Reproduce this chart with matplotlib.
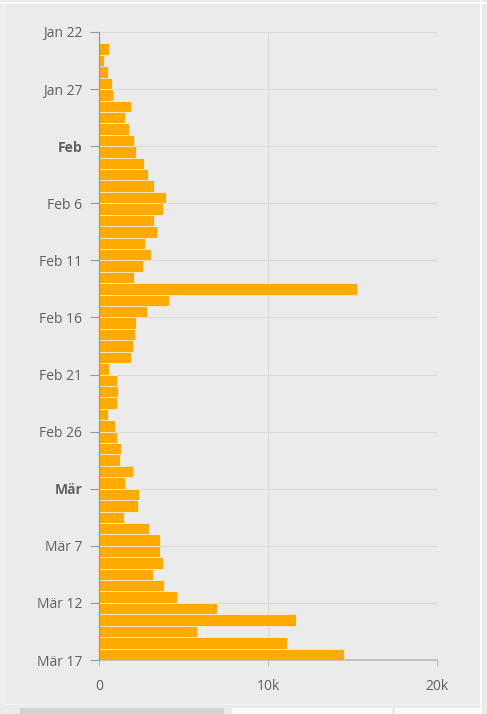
import matplotlib.pyplot as plt
import matplotlib.patches as patches
from matplotlib.lines import Line2D
import pandas as pd

# Daily new cases, Jan 23 .. Mar 16
START = '2020-01-22'
dates = pd.date_range('2020-01-23', '2020-03-16', freq='D')
new_cases = [
    610, 296, 515, 751, 846, 1876, 1538, 1775, 2089, 2189,
    2663, 2882, 3274, 3964, 3767, 3274, 3432, 2722, 3057, 2584,
    2091, 15290, 4163, 2820, 2189, 2150, 2032, 1874, 611, 1085,
    1144, 1085, 513, 947, 1085, 1282, 1243, 2032, 1538, 2387,
    2327, 1479, 2978, 3609, 3609, 3767, 3215, 3846, 4635, 7003,
    11680, 5819, 11104, 14480,
]

tick_days = [0, 5, 10, 15, 20, 25, 30, 35, 40, 45, 50, 55]
tick_labels = ['Jan 22', 'Jan 27', 'Feb', 'Feb 6', 'Feb 11', 'Feb 16',
               'Feb 21', 'Feb 26', 'Mär', 'Mär 7', 'Mär 12', 'Mär 17']
bold_labels = ['Feb', 'Mär']

x_ticks = [0, 10000, 20000]
x_labels = ['0', '10k', '20k']

BG = '#ebebeb'
BAR = '#ffaa00'
TEXT = '#606060'
GRID = '#d9d9d9'

plt.rcParams['font.family'] = ['Open Sans', 'DejaVu Sans']

fig = plt.figure(figsize=(4.87, 7.14), dpi=100, facecolor=BG)
ax = fig.add_axes([99 / 487, 1 - 660 / 714, 338 / 487, 628 / 714])
ax.set_facecolor(BG)

# bar for each day sits between that day and the next
days = [(d - pd.Timestamp(START)).days for d in dates]
ax.barh(days, new_cases, height=1, align='edge', color=BAR,
        edgecolor='#f8ecd2', linewidth=0.6, zorder=3)

ax.set_xlim(0, 20000)
ax.set_ylim(55, 0)

ax.set_yticks(tick_days)
ax.set_yticklabels(tick_labels)
for lbl in ax.get_yticklabels():
    if lbl.get_text() in bold_labels:
        lbl.set_fontweight('bold')
ax.set_xticks(x_ticks)
ax.set_xticklabels(x_labels)

ax.tick_params(axis='y', length=6.5, width=0.8, color='#999999', pad=5.5,
               labelsize=10, labelcolor=TEXT)
ax.tick_params(axis='x', length=4, width=0.8, color='#bbbbbb', pad=10,
               labelsize=10, labelcolor=TEXT)

ax.grid(True, color=GRID, linewidth=0.8, zorder=0)
ax.set_axisbelow(True)

for side in ['top', 'right']:
    ax.spines[side].set_visible(False)
ax.spines['left'].set_color('#999999')
ax.spines['left'].set_linewidth(0.9)
ax.spines['left'].set_zorder(4)
ax.spines['bottom'].set_color('#bbbbbb')
ax.spines['bottom'].set_linewidth(1.2)

# panel frame and bottom scroll strip
W, H = 487, 714
def px_line(x0, y0, x1, y1, color, lw):
    fig.add_artist(Line2D([x0 / W, x1 / W], [1 - y0 / H, 1 - y1 / H],
                          transform=fig.transFigure, color=color, linewidth=lw))

px_line(0, 3, W, 3, 'white', 1.2)
px_line(481, 0, 481, H, 'white', 1.2)
px_line(3, 3, 3, 704, '#f4f4f4', 0.8)
px_line(3, 704, 481, 704, '#f4f4f4', 0.8)
fig.add_artist(patches.Rectangle((20 / W, 0), 204 / W, 6 / H, transform=fig.transFigure,
                                 color='#d2d2d2', linewidth=0))
fig.add_artist(patches.Rectangle((232 / W, 0), 160 / W, 6 / H, transform=fig.transFigure,
                                 color='#fafafa', linewidth=0))
fig.add_artist(patches.Rectangle((395 / W, 0), 86 / W, 6 / H, transform=fig.transFigure,
                                 color='#fafafa', linewidth=0))

fig.savefig('out.png', dpi=100, facecolor=BG)
